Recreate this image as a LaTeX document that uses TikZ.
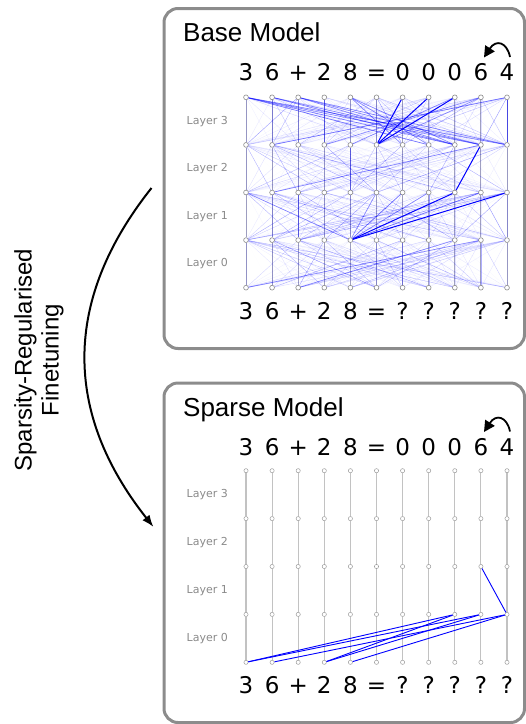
\documentclass[tikz,border=0pt]{standalone}
\usepackage{fontspec}
\setmainfont{Liberation Sans}
\newfontfamily\dv{DejaVu Sans}
\usetikzlibrary{arrows.meta}
\definecolor{boxgray}{HTML}{8C8C8C}
\definecolor{nodegray}{HTML}{8A8A8A}
\definecolor{labgray}{HTML}{8A8A8A}
\definecolor{vgray}{HTML}{C2C2C2}
\definecolor{vbase}{HTML}{A0A0C0}
\definecolor{lblue}{HTML}{0000FF}
\begin{document}
\begin{tikzpicture}[x=1pt,y=-1pt,
  tok/.style={font=\dv\fontsize{23}{23}\selectfont, anchor=base, inner sep=0pt},
  title/.style={font=\fontsize{26}{26}\selectfont, anchor=base west, inner sep=0pt},
  lay/.style={font=\dv\fontsize{11}{11}\selectfont, text=labgray, anchor=east, inner sep=0pt},
  bnode/.style={circle, draw=nodegray, fill=white, line width=0.6pt, inner sep=0pt, minimum size=4.8pt},
  snode/.style={circle, draw=nodegray!85, fill=white, line width=0.5pt, inner sep=0pt, minimum size=4.2pt},
  modelbox/.style={draw=boxgray, line width=3pt, rounded corners=14pt},
  strong/.style={draw=lblue, line width=1pt},
  med/.style={draw=lblue, line width=0.7pt, draw opacity=0.45},
  vbaseline/.style={draw=vbase, line width=0.9pt},
  vsparse/.style={draw=vgray, line width=1.1pt},
  sline/.style={draw=lblue, line width=0.9pt},
  curl/.style={line width=1.8pt, -{Triangle[length=11pt,width=11pt]}},
  bigarrow/.style={line width=2pt, -{Latex[length=12pt,width=9pt]}}
]
\useasboundingbox (0,0) rectangle (526,724);

% ---------------- Base model ----------------
\draw[modelbox] (164,8.5) rectangle (524.5,348.5);
\node[title] (btitle) at (183,41.7) {Base Model};
\foreach \t [count=\i from 0] in {3,6,+,2,8,=,0,0,0,6,4}
  \node[tok] (bt-\i) at ({246+26.1*\i},80.7) {\t};
\foreach \t [count=\i from 0] in {3,6,+,2,8,=,?,?,?,?,?}
  \node[tok] (bb-\i) at ({246+26.1*\i},319) {\t};
\foreach \k in {0,...,3}
  \node[lay] (bl-\k) at (228,{263.9-47.6*\k}) {Layer \k};
\foreach \r in {0,...,4}{
  \foreach \i in {0,...,10}{
    \node[bnode] (b\r-\i) at ({246+26.1*\i},{287.7-47.6*\r}) {};
  }
}
\foreach \r [evaluate=\r as \rr using int(\r+1)] in {0,...,3}{
  \foreach \i in {0,...,10}{
    \draw[vbaseline] (b\r-\i) -- (b\rr-\i);
  }
}
\pgfmathsetseed{4242}
\foreach \r [evaluate=\r as \rr using int(\r+1)] in {0,...,3}{
  \foreach \i in {0,...,10}{
    \foreach \j in {0,...,10}{
      \pgfmathsetmacro\op{0.5*rnd*rnd}
      \draw[lblue, line width=0.4pt, draw opacity=\op] (b\r-\i) -- (b\rr-\j);
    }
  }
}
% medium lines
\foreach \a/\b in {4-0/3-7,4-0/3-8,4-0/3-9,4-0/3-10,4-1/3-8,4-1/3-9,4-2/3-8,4-2/3-9,4-2/3-10,
  4-4/3-6,4-4/3-7,4-4/3-8,4-9/3-5,4-9/3-3,4-8/3-4,3-1/4-10,3-3/4-3,3-10/4-10,
  2-1/3-9,1-4/2-9,1-4/2-7,1-4/2-6,1-4/2-5,2-0/1-4,0-2/1-8,0-0/1-9}
  \draw[med] (b\a) -- (b\b);
% strong lines
\foreach \a/\b in {3-5/4-6,3-5/4-7,3-5/4-8,2-8/3-9,1-4/2-10,1-4/2-8}
  \draw[strong] (b\a) -- (b\b);
\coordinate (bc1) at (510,57);
\coordinate (bc2) at (484,57.5);
\draw[curl] (bc1) .. controls (507,42) and (496,39) .. (bc2);

% ---------------- Sparse model ----------------
\draw[modelbox] (164,383) rectangle (524.5,722.5);
\node[title] (stitle) at (183,416.7) {Sparse Model};
\foreach \t [count=\i from 0] in {3,6,+,2,8,=,0,0,0,6,4}
  \node[tok] (st-\i) at ({246+26.1*\i},455.2) {\t};
\foreach \t [count=\i from 0] in {3,6,+,2,8,=,?,?,?,?,?}
  \node[tok] (sb-\i) at ({246+26.1*\i},693.5) {\t};
\foreach \k in {0,...,3}
  \node[lay] (sl-\k) at (228,{638.4-47.9*\k}) {Layer \k};
\foreach \r in {0,...,4}{
  \foreach \i in {0,...,10}{
    \node[snode] (s\r-\i) at ({246+26.1*\i},{662.3-47.9*\r}) {};
  }
}
\foreach \r [evaluate=\r as \rr using int(\r+1)] in {0,...,3}{
  \foreach \i in {0,...,10}{
    \draw[vsparse] (s\r-\i) -- (s\rr-\i);
  }
}
\foreach \a/\b in {0-0/1-8,0-0/1-9,0-1/1-10,0-3/1-8,0-3/1-9,0-4/1-10,1-10/2-9}
  \draw[sline] (s\a) -- (s\b);
\coordinate (sc1) at (510,431.5);
\coordinate (sc2) at (484,432);
\draw[curl] (sc1) .. controls (507,416.5) and (496,413.5) .. (sc2);

% ---------------- Finetuning arrow ----------------
\coordinate (fa) at (151.5,188);
\coordinate (fb) at (153.5,527);
\draw[bigarrow] (fa) .. controls (62.5,300) and (63.2,413) .. (fb);
\node[rotate=90, align=center, font=\fontsize{24}{27}\selectfont, inner sep=0pt] (ftext) at (39,360) {Sparsity-Regularised\\Finetuning};
\end{tikzpicture}
\end{document}
